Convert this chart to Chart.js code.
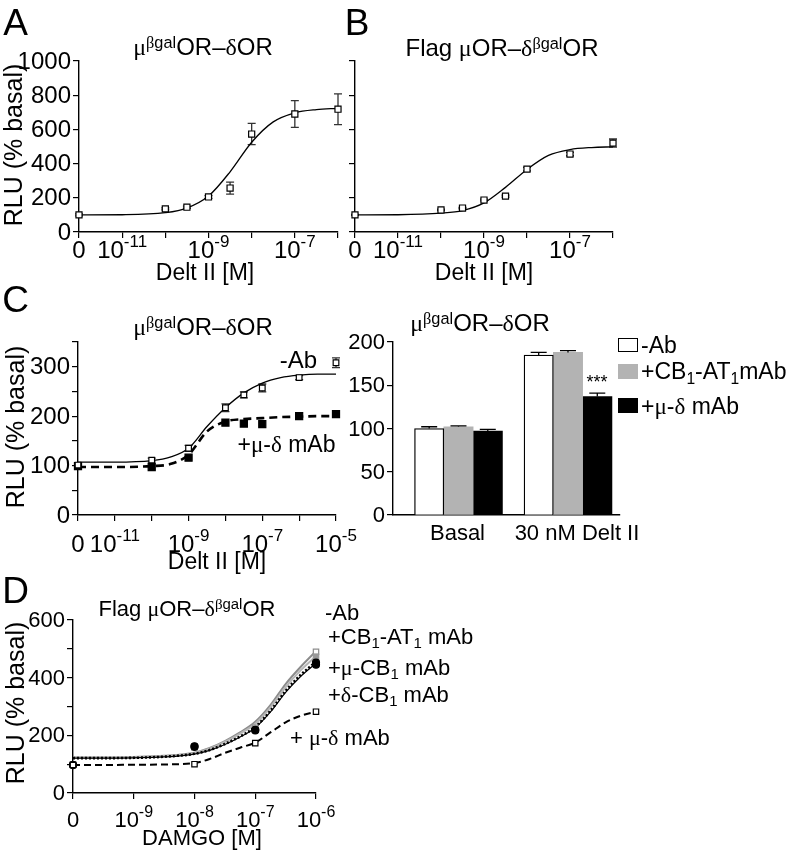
<!DOCTYPE html>
<html>
<head>
<meta charset="utf-8">
<script src="https://cdn.jsdelivr.net/npm/chart.js@4.4.0/dist/chart.umd.min.js"></script>
<style>
  body { margin: 0; background: #fff; }
  #fig { position: relative; width: 796px; height: 858px; overflow: hidden; background: #fff;
         font-family: "Liberation Sans", Arial, Helvetica, sans-serif; color: #000; }
  canvas { position: absolute; }
  .t { position: absolute; white-space: nowrap; line-height: 1; transform: translate(-50%, -50%); }
  .l { transform: translate(0, -50%); }
  .ry { transform: translate(-50%, -50%) rotate(-90deg); }
  .g { font-family: "Liberation Serif", "DejaVu Serif", serif; }
  .sp { position: relative; top: -0.45em; font-size: 0.68em; }
  .sb { position: relative; top: 0.3em; font-size: 0.68em; }
  .sq { position: absolute; box-sizing: border-box; }
</style>
</head>
<body>
<div id="fig">
  <canvas id="chartA"></canvas>
  <canvas id="chartB"></canvas>
  <canvas id="chartC"></canvas>
  <canvas id="chartCbar"></canvas>
  <canvas id="chartD"></canvas>

  <!-- panel letters -->
  <div class="t" style="left:15.5px;top:21.5px;font-size:37px">A</div>
  <div class="t" style="left:357px;top:21.5px;font-size:37px">B</div>
  <div class="t" style="left:15.5px;top:299px;font-size:37px">C</div>
  <div class="t" style="left:15.5px;top:590px;font-size:37px">D</div>

  <!-- titles -->
  <div class="t" style="left:203px;top:47px;font-size:24px"><span class="g">μ</span><span class="sp"><span class="g">β</span>gal</span>OR–<span class="g">δ</span>OR</div>
  <div class="t" style="left:502px;top:48px;font-size:24px">Flag <span class="g">μ</span>OR–<span class="g">δ</span><span class="sp"><span class="g">β</span>gal</span>OR</div>
  <div class="t" style="left:203px;top:327px;font-size:24px"><span class="g">μ</span><span class="sp"><span class="g">β</span>gal</span>OR–<span class="g">δ</span>OR</div>
  <div class="t" style="left:480px;top:323px;font-size:24px"><span class="g">μ</span><span class="sp"><span class="g">β</span>gal</span>OR–<span class="g">δ</span>OR</div>
  <div class="t" style="left:187px;top:609px;font-size:22px">Flag <span class="g">μ</span>OR–<span class="g">δ</span><span class="sp"><span class="g">β</span>gal</span>OR</div>

  <!-- axis titles -->
  <div class="t ry" style="left:13px;top:145px;font-size:25px">RLU (% basal)</div>
  <div class="t ry" style="left:15px;top:427px;font-size:25px">RLU (% basal)</div>
  <div class="t ry" style="left:15px;top:703px;font-size:25px">RLU (% basal)</div>
  <div class="t" style="left:205px;top:272px;font-size:23px">Delt II [M]</div>
  <div class="t" style="left:484px;top:272px;font-size:23px">Delt II [M]</div>
  <div class="t" style="left:217px;top:561px;font-size:23px">Delt II [M]</div>
  <div class="t" style="left:202px;top:838px;font-size:22px">DAMGO [M]</div>

  <!-- panel C annotations -->
  <div class="t" style="left:298.5px;top:360px;font-size:24px">-Ab</div>
  <div class="t" style="left:286.5px;top:444px;font-size:23px">+<span class="g">μ</span>-<span class="g">δ</span> mAb</div>
  <div class="t" style="left:597px;top:382px;font-size:18px">***</div>

  <!-- bar legend -->
  <div class="sq" style="left:618px;top:338px;width:20px;height:14px;border:1.3px solid #000;background:#fff"></div>
  <div class="sq" style="left:618px;top:364px;width:20px;height:15px;background:#b3b3b3"></div>
  <div class="sq" style="left:618px;top:398px;width:20px;height:15px;background:#000"></div>
  <div class="t l" style="left:641px;top:345px;font-size:23px">-Ab</div>
  <div class="t l" style="left:641px;top:371px;font-size:23px">+CB<span class="sb">1</span>-AT<span class="sb">1</span>mAb</div>
  <div class="t l" style="left:641px;top:406px;font-size:23px">+<span class="g">μ</span>-<span class="g">δ</span> mAb</div>

  <!-- panel D legend -->
  <div class="t l" style="left:325px;top:613px;font-size:22px">-Ab</div>
  <div class="t l" style="left:328px;top:637px;font-size:22px">+CB<span class="sb">1</span>-AT<span class="sb">1</span> mAb</div>
  <div class="t l" style="left:328px;top:668px;font-size:22px">+<span class="g">μ</span>-CB<span class="sb">1</span> mAb</div>
  <div class="t l" style="left:328px;top:695px;font-size:22px">+<span class="g">δ</span>-CB<span class="sb">1</span> mAb</div>
  <div class="t l" style="left:290px;top:738px;font-size:22px">+ <span class="g">μ</span>-<span class="g">δ</span> mAb</div>
</div>

<script>
// ---- data (x values are log10 of molar concentration; "0" sits at the left end) ----

// A: mu(bgal)OR-deltaOR, Delt II
const concA = [-12, -10, -9.5, -9, -8.5, -8, -7, -6];
const rluA = [100, 135, 145, 205, 257, 573, 690, 718];
const errA = [6, 6, 6, 8, 35, 62, 78, 90];
const fitConcA = [-12, -11, -10, -9.5, -9, -8.5, -8, -7.5, -7, -6.5, -6];
const fitRluA = [100, 101, 113, 140, 210, 352, 525, 644, 697, 716, 723];

// B: Flag muOR-delta(bgal)OR, Delt II
const concB = [-12, -10, -9.5, -9, -8.5, -8, -7, -6];
const rluB = [100, 129, 140, 187, 210, 368, 456, 520];
const errB = [3, 4, 4, 5, 6, 10, 10, 24];
const fitConcB = [-12, -11, -10, -9.5, -9, -8.5, -8, -7.5, -7, -6.5, -6];
const fitRluB = [100, 101, 110, 125, 170, 261, 366, 448, 482, 494, 498];

// C left: -Ab vs +mu-delta mAb
const concC = [-12, -10, -9, -8, -7.5, -7, -6, -5];
const rluCNoAb = [101, 111, 135, 217, 243, 257, 278, 308];
const errCNoAb = [3, 4, 6, 8, 6, 8, 4, 10];
const rluCMuDelta = [99, 97, 116, 187, 185, 184, 200, 204];
const fitConcC = [-12, -11, -10, -9.5, -9, -8.5, -8, -7.5, -7, -6.5, -6, -5.5, -5];
const fitRluCNoAb = [107, 107, 110, 117, 135, 179, 217, 247, 267, 278, 283, 285, 285];
const fitRluCMuDelta = [97, 97, 99, 103, 122, 169, 189, 194, 196, 198, 199, 200, 200];

// C right: bars
const barCategories = ['Basal', '30 nM Delt II'];
const barNoAb = [100, 185];
const barNoAbErr = [2, 3];
const barCbAt = [102, 188];
const barCbAtErr = [1, 2];
const barMuDelta = [97, 137];
const barMuDeltaErr = [2, 4];

// D: Flag muOR-delta(bgal)OR, DAMGO
const concD = [-10, -8, -7, -6];
const rluDNoAb = [100, 158, 226, 490];
const rluDCbAt = [98, 160, 222, 472];
const rluDMuCb = [97, 162, 219, 452];
const rluDDeltaCb = [97, 160, 217, 445];
const rluDMuDelta = [97, 100, 173, 282];
const fitConcD = [-10, -9.5, -9, -8.5, -8, -7.75, -7.5, -7.25, -7, -6.75, -6.5, -6.25, -6];
const fitDNoAb = [123, 123, 125, 129, 140, 156, 180, 210, 247, 305, 378, 438, 492];
const fitDCbAt = [123, 123, 124, 128, 139, 154, 177, 206, 240, 297, 367, 426, 475];
const fitDMuCb = [121, 121, 122, 126, 136, 149, 170, 196, 229, 285, 354, 410, 455];
const fitDDeltaCb = [121, 121, 122, 125, 135, 148, 168, 194, 226, 281, 349, 405, 450];
const fitDMuDelta = [97, 97, 98, 99, 104, 118, 139, 157, 175, 210, 245, 268, 282];

// tick labels
const xTicksA = [-12, -11, -9, -7];
const xTickTextA = ['0', '10^-11', '10^-9', '10^-7'];
const yTicksA = [0, 200, 400, 600, 800, 1000];
const xTicksC = [-12, -11, -9, -7, -5];
const xTickTextC = ['0', '10^-11', '10^-9', '10^-7', '10^-5'];
const yTicksC = [0, 100, 200, 300];
const yTicksBar = [0, 50, 100, 150, 200];
const xTicksD = [-10, -9, -8, -7, -6];
const xTickTextD = ['0', '10^-9', '10^-8', '10^-7', '10^-6'];
const yTicksD = [0, 200, 400, 600];

// ---- helpers ----
const FONT = '"Liberation Sans", Arial, Helvetica, sans-serif';
const pts = (xs, ys) => xs.map((x, i) => ({ x: x, y: ys[i] }));

function axis(min, max, step, tickLen) {
  return {
    type: 'linear', min: min, max: max, bounds: 'data', offset: false,
    ticks: { display: false, stepSize: step },
    grid: { display: tickLen > 0, drawOnChartArea: false, drawTicks: tickLen > 0, tickLength: tickLen, color: '#000', lineWidth: 1.2, offset: false },
    border: { display: true, color: '#000', width: 1.4 }
  };
}

function markers(xs, ys, errs, style, fill, edge, r) {
  return {
    type: 'scatter', data: pts(xs, ys), errors: errs, showLine: false, clip: false,
    pointStyle: style, pointRadius: r, backgroundColor: fill, borderColor: edge, borderWidth: 1.2
  };
}

function curve(xs, ys, color, width, dash) {
  return {
    type: 'scatter', data: pts(xs, ys), showLine: true, clip: false, pointRadius: 0,
    borderColor: color, borderWidth: width, borderDash: dash || [], cubicInterpolationMode: 'monotone', fill: false
  };
}

//誤差棒
const errorBars = {
  id: 'errorBars',
  draw(chart) {
    const ctx = chart.ctx, ys = chart.scales.y;
    const isBar = chart.config.type === 'bar';
    chart.data.datasets.forEach((ds, di) => {
      if (!ds.errors) return;
      const meta = chart.getDatasetMeta(di);
      ctx.save();
      ctx.strokeStyle = isBar ? '#000' : '#333';
      ctx.lineWidth = 1.3;
      meta.data.forEach((el, i) => {
        const e = ds.errors[i];
        if (!e) return;
        const d = ds.data[i];
        const v = typeof d === 'object' ? d.y : d;
        const top = ys.getPixelForValue(v + e);
        const bot = isBar ? el.y : ys.getPixelForValue(v - e);
        const cap = isBar ? 8 : 4;
        ctx.beginPath();
        ctx.moveTo(el.x, top); ctx.lineTo(el.x, bot);
        ctx.moveTo(el.x - cap, top); ctx.lineTo(el.x + cap, top);
        if (!isBar) { ctx.moveTo(el.x - cap, bot); ctx.lineTo(el.x + cap, bot); }
        ctx.stroke();
      });
      ctx.restore();
    });
  },
  beforeDatasetsDraw(chart) { if (chart.config.type !== 'bar') this.draw(chart); },
  afterDatasetsDraw(chart) { if (chart.config.type === 'bar') this.draw(chart); }
};

function tickText(xVals, xLabels, yVals, size, xBase, xShift) {
  return {
    id: 'tickText',
    afterDraw(chart) {
      const ctx = chart.ctx, a = chart.chartArea, x = chart.scales.x, y = chart.scales.y;
      const es = Math.round(size * 0.72);
      ctx.save();
      ctx.fillStyle = '#000';
      ctx.font = size + 'px ' + FONT;
      ctx.textAlign = 'right';
      ctx.textBaseline = 'middle';
      yVals.forEach(v => ctx.fillText(String(v), a.left - 8, y.getPixelForValue(v) + 1));
      ctx.textAlign = 'left';
      ctx.textBaseline = 'alphabetic';
      xLabels.forEach((lab, i) => {
        const parts = lab.split('^');
        const px = x.getPixelForValue(xVals[i]) + (xShift ? xShift[i] : 0);
        ctx.font = size + 'px ' + FONT;
        const bw = ctx.measureText(parts[0]).width;
        ctx.font = es + 'px ' + FONT;
        const ew = parts[1] ? ctx.measureText(parts[1]).width : 0;
        const sx = px - (bw + ew) / 2;
        ctx.font = size + 'px ' + FONT;
        ctx.fillText(parts[0], sx, a.bottom + xBase);
        if (parts[1]) {
          ctx.font = es + 'px ' + FONT;
          ctx.fillText(parts[1], sx + bw, a.bottom + xBase - Math.round(size * 0.45));
        }
      });
      ctx.restore();
    }
  };
}

function makeChart(id, box, area, xTick, config) {
  const cv = document.getElementById(id);
  cv.width = box.w; cv.height = box.h;
  cv.style.left = box.x + 'px'; cv.style.top = box.y + 'px';
  config.options.responsive = false;
  config.options.animation = false;
  config.options.events = [];
  config.options.plugins = { legend: { display: false }, tooltip: { enabled: false } };
  config.options.layout = { padding: {
    left: area.l - box.x - 6, top: area.t - box.y,
    right: box.x + box.w - area.r, bottom: box.y + box.h - area.b - xTick } };
  return new Chart(cv, config);
}

// ---- A ----
makeChart('chartA', { x: 0, y: 0, w: 350, h: 290 }, { l: 79, t: 61, r: 338, b: 232 }, 6, {
  type: 'scatter',
  data: { datasets: [
    markers(concA, rluA, errA, 'rect', '#fff', '#000', 4.3),
    curve(fitConcA, fitRluA, '#000', 1.3)
  ] },
  options: { scales: { x: axis(-12, -6, 1, 6), y: axis(0, 1000, 200, 6) } },
  plugins: [errorBars, tickText(xTicksA, xTickTextA, yTicksA, 24, 26)]
});

// ---- B ----
makeChart('chartB', { x: 300, y: 0, w: 340, h: 290 }, { l: 355, t: 61, r: 613, b: 232 }, 6, {
  type: 'scatter',
  data: { datasets: [
    markers(concB, rluB, errB, 'rect', '#fff', '#000', 4.3),
    curve(fitConcB, fitRluB, '#000', 1.3)
  ] },
  options: { scales: { x: axis(-12, -6, 1, 6), y: axis(0, 1000, 200, 6) } },
  plugins: [errorBars, tickText(xTicksA, xTickTextA, [], 24, 26)]
});

// ---- C left ----
makeChart('chartC', { x: 0, y: 290, w: 370, h: 290 }, { l: 78, t: 342, r: 336, b: 515 }, 6, {
  type: 'scatter',
  data: { datasets: [
    markers(concC, rluCNoAb, errCNoAb, 'rect', '#fff', '#000', 4),
    markers(concC, rluCMuDelta, null, 'rect', '#000', '#000', 5),
    curve(fitConcC, fitRluCNoAb, '#000', 1.3),
    curve(fitConcC, fitRluCMuDelta, '#000', 2.6, [8, 5])
  ] },
  options: { scales: { x: axis(-12, -5, 1, 6), y: axis(0, 350, 50, 6) } },
  plugins: [errorBars, tickText(xTicksC, xTickTextC, yTicksC, 24, 37)]
});

// ---- C right (bars) ----
const barPos = barCategories.map((c, i) => i);
function barSet(vals, errs, fill) {
  return { data: pts(barPos, vals), errors: errs, backgroundColor: fill,
           borderColor: '#000', borderWidth: fill === '#fff' ? 1.3 : 0, barThickness: 29.3 };
}
makeChart('chartCbar', { x: 330, y: 290, w: 330, h: 270 }, { l: 393, t: 342, r: 620, b: 515 }, 0, {
  type: 'bar',
  data: { datasets: [
    barSet(barNoAb, barNoAbErr, '#fff'),
    barSet(barCbAt, barCbAtErr, '#b3b3b3'),
    barSet(barMuDelta, barMuDeltaErr, '#000')
  ] },
  options: { scales: { x: axis(-0.598, 1.475, 1, 0), y: axis(0, 200, 50, 6) } },
  plugins: [errorBars, tickText(barPos, barCategories, yTicksBar, 22, 25, [-1, 9])]
});

// ---- D ----
makeChart('chartD', { x: 0, y: 590, w: 350, h: 268 }, { l: 73, t: 620, r: 316, b: 793 }, 6, {
  type: 'scatter',
  data: { datasets: [
    markers(concD, rluDMuDelta, null, 'rect', '#fff', '#000', 3.8),
    markers(concD, rluDDeltaCb, null, 'circle', '#000', '#000', 3.5),
    markers(concD, rluDMuCb, null, 'circle', '#000', '#000', 3.5),
    markers(concD, rluDCbAt, null, 'rect', '#9a9a9a', '#9a9a9a', 3.8),
    markers(concD, rluDNoAb, null, 'rect', '#fff', '#8c8c8c', 3.8),
    curve(fitConcD, fitDMuDelta, '#000', 2, [7, 4]),
    curve(fitConcD, fitDDeltaCb, '#000', 1.2),
    curve(fitConcD, fitDMuCb, '#000', 2.6, [2, 2]),
    curve(fitConcD, fitDCbAt, '#b5b5b5', 2),
    curve(fitConcD, fitDNoAb, '#8c8c8c', 2)
  ] },
  options: { scales: { x: axis(-10, -6, 1, 6), y: axis(0, 600, 100, 6) } },
  plugins: [errorBars, tickText(xTicksD, xTickTextD, yTicksD, 22, 34)]
});
</script>
</body>
</html>
